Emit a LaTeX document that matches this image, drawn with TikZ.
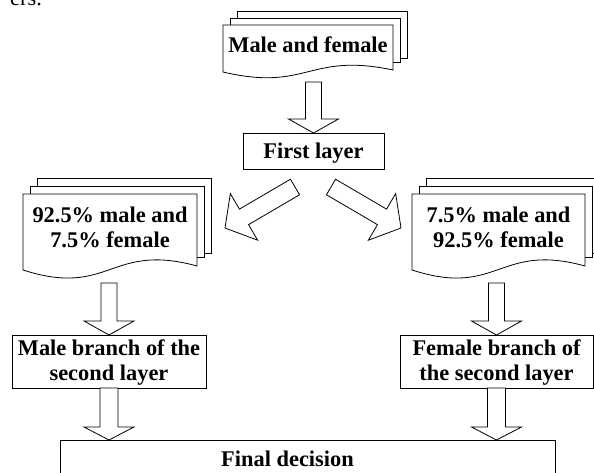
\documentclass[tikz,border=0pt]{standalone}
\usepackage{fontspec}
\setmainfont{Liberation Serif}
\usetikzlibrary{calc}
\pgfdeclarelayer{bg}
\pgfsetlayers{bg,main}
\tikzset{
  line/.style={draw=black, line width=0.8pt},
  lbl/.style={font=\bfseries\fontsize{22.4}{25}\selectfont, align=center,
    inner sep=0pt, outer sep=0pt, text height=15pt, text depth=#1},
  lbl/.default=0pt,
  twolines/.style={text height=40pt},
  docnode/.style={lbl=#1, draw=none, rectangle},
  boxnode/.style={lbl=#1, line, rectangle, fill=white},
  blockarrowstyle/.style={line, fill=white, line join=miter},
}
% #1 node, #2 wave control, #3 right end rise, #4 page offset y, #5 2nd page bottom rise, #6 3rd page bottom rise
\newcommand{\docstack}[6]{%
  \begin{pgfonlayer}{bg}
  \draw[line,fill=white] ($(#1.north west)+(14,-2*#4)$) rectangle ($(#1.south east)+(14,-#6)$);
  \draw[line,fill=white] ($(#1.north west)+(7,-#4)$) rectangle ($(#1.south east)+(7,-#5)$);
  \draw[line,fill=white] (#1.north west) -- (#1.north east) -- ($(#1.south east)+(0,-#3)$)
     .. controls ($(#1.south)+(0,-#2)$) and ($(#1.south)+(0,#2)$) .. (#1.south west) -- cycle;
  \end{pgfonlayer}}
% #1 tail, #2 tip, #3 shaft half width, #4 head half width, #5 head length
\newcommand{\blockarrow}[5]{%
  \path ($(#2)!#5!(#1)$) coordinate (hb);
  \draw[blockarrowstyle] ($(#1)!#3!90:(#2)$) -- ($(hb)!#3!90:(#2)$) -- ($(hb)!#4!90:(#2)$)
     -- (#2) -- ($(hb)!#4!-90:(#2)$) -- ($(hb)!#3!-90:(#2)$) -- ($(#1)!#3!-90:(#2)$) -- cycle;}
\begin{document}
\begin{tikzpicture}[x=1pt, y=-1pt]
\useasboundingbox (0,0) rectangle (594,472);
\node[anchor=base west, font=\fontsize{22.4}{25}\selectfont, inner sep=0pt] (ers) at (10,5) {ers.};

% documents
\node[docnode=8pt, minimum width=170pt, minimum height=47pt] (top) at (308,48.5) {Male and female};
\docstack{top}{20}{2}{7}{10}{14}
\node[docnode=10pt, twolines, minimum width=174pt, minimum height=76pt] (ldoc) at (110,232) {92.5\% male and\\7.5\% female};
\docstack{ldoc}{28}{4}{8}{13}{17}
\node[docnode=10pt, twolines, minimum width=173pt, minimum height=76pt] (rdoc) at (498.5,232) {7.5\% male and\\92.5\% female};
\docstack{rdoc}{28}{4}{8}{13}{17}

% boxes
\node[boxnode=0pt, minimum width=141pt, minimum height=36pt] (first) at (313.5,151) {First layer};
\node[boxnode=3pt, twolines, minimum width=194pt, minimum height=53pt] (male) at (109,361.5) {Male branch of the\\second layer};
\node[boxnode=3pt, twolines, minimum width=193pt, minimum height=53pt] (female) at (496.5,361.5) {Female branch of\\the second layer};
\node[boxnode=28pt, minimum width=495pt, minimum height=65pt] (final) at (307.5,472.5) {\hspace*{-40pt}Final decision};

% arrow ends
\coordinate (t1) at (313.5,82);
\coordinate (t2) at (295,187);
\coordinate (c2) at (225,228);
\coordinate (t3) at (331,187);
\coordinate (c3) at (401,228);
\coordinate (t4) at (109,283);
\coordinate (t5) at (496.5,283);

\blockarrow{t1}{first.north}{8pt}{25pt}{14pt}
\blockarrow{t2}{c2}{9pt}{27pt}{22pt}
\blockarrow{t3}{c3}{9pt}{27pt}{22pt}
\blockarrow{t4}{male.north}{8pt}{25pt}{14pt}
\blockarrow{t5}{female.north}{8pt}{25pt}{14pt}
\blockarrow{male.south}{male.south |- final.north}{9pt}{25pt}{13pt}
\blockarrow{female.south}{female.south |- final.north}{9pt}{25pt}{13pt}
\end{tikzpicture}
\end{document}
